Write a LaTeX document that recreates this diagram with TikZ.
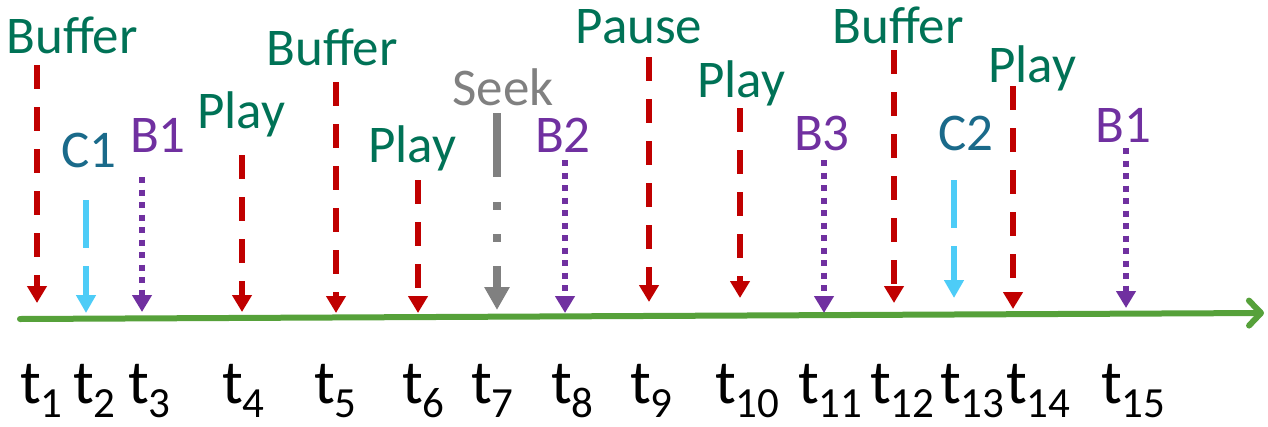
\documentclass[tikz,border=0pt]{standalone}
\usepackage{fontspec}
\setmainfont{Carlito}
\usetikzlibrary{arrows.meta}
\definecolor{evred}{HTML}{C00000}
\definecolor{evblue}{HTML}{4DCCF7}
\definecolor{evpurple}{HTML}{7030A0}
\definecolor{evgray}{HTML}{808080}
\definecolor{txtgreen}{HTML}{007256}
\definecolor{txtblue}{HTML}{1A6A8A}
\definecolor{axisgreen}{HTML}{56A13A}
\tikzset{
  redarrow/.style={draw=evred, line width=6pt, dash pattern=on 24pt off 18pt,
    -{Triangle[width=19pt,length=17pt]}},
  bluearrow/.style={draw=evblue, line width=6pt, dash pattern=on 48pt off 18pt,
    -{Triangle[width=19pt,length=18pt]}},
  purplearrow/.style={draw=evpurple, line width=6pt, dash pattern=on 6pt off 6.5pt,
    -{Triangle[width=19pt,length=17pt]}},
  grayarrow/.style={draw=evgray, line width=8pt,
    dash pattern=on 64pt off 25pt on 8pt off 24pt on 8pt off 24pt,
    -{Triangle[width=24pt,length=23pt]}},
  evlabel/.style={anchor=base, inner sep=0pt, font=\fontsize{53}{60}\selectfont},
  greenlab/.style={evlabel, text=txtgreen},
  bluelab/.style={evlabel, text=txtblue},
  purplelab/.style={evlabel, text=evpurple},
  graylab/.style={evlabel, text=evgray},
  tlab/.style={anchor=base west, inner sep=0pt, font=\fontsize{62}{70}\selectfont},
  axis/.style={draw=axisgreen, line width=6pt, line cap=round,
    -{Straight Barb[length=12pt,width=25pt,line cap=round,line join=round]}}
}
\newcommand{\tsub}[1]{t\raisebox{-14pt}{\fontsize{43}{50}\selectfont #1}}
\begin{document}
\begin{tikzpicture}[x=1pt,y=-1pt]
\useasboundingbox (0,0) rectangle (1268,426);
% time axis
\coordinate (a0) at (20,319);
\coordinate (a1) at (1264,313);
\draw[axis] (a0) -- (a1);
% events
\foreach \i/\x/\top/\tip/\sty/\lab/\lx/\ly/\lsty in {
  1/37/65/303/redarrow/Buffer/72/53/greenlab,
  2/86/200/313/bluearrow/C1/89/167/bluelab,
  3/142/177/312/purplearrow/B1/158/152/purplelab,
  4/242/155/312/redarrow/Play/241/128/greenlab,
  5/336/82/313/redarrow/Buffer/332/65/greenlab,
  6/418/180/313/redarrow/Play/412/162/greenlab,
  7/497/113/310/grayarrow/Seek/503/105/graylab,
  8/565/160/313/purplearrow/B2/563/152/purplelab,
  9/649/57/302/redarrow/Pause/639/43/greenlab,
  10/740/108/298/redarrow/Play/741/97/greenlab,
  11/824/160/313/purplearrow/B3/822/150/purplelab,
  12/894/50/303/redarrow/Buffer/898/43/greenlab,
  13/954/180/298/bluearrow/C2/966/150/bluelab,
  14/1013/86/309/redarrow/Play/1032/82/greenlab,
  15/1126/148/308/purplearrow/B1/1123/142/purplelab}{
  \node[\lsty] (l\i) at (\lx,\ly) {\lab};
  \coordinate (s\i) at (\x,\top);
  \coordinate (e\i) at (\x,\tip);
  \draw[\sty] (s\i) -- (e\i);
}
% time labels
\foreach \i/\x in {1/20,2/73,3/128,4/222,5/314,6/402,7/471,8/551,9/630,
  10/715,11/798,12/870,13/940,14/1006,15/1101}{
  \node[tlab] (t\i) at (\x,403) {\tsub{\i}};
}
\end{tikzpicture}
\end{document}
